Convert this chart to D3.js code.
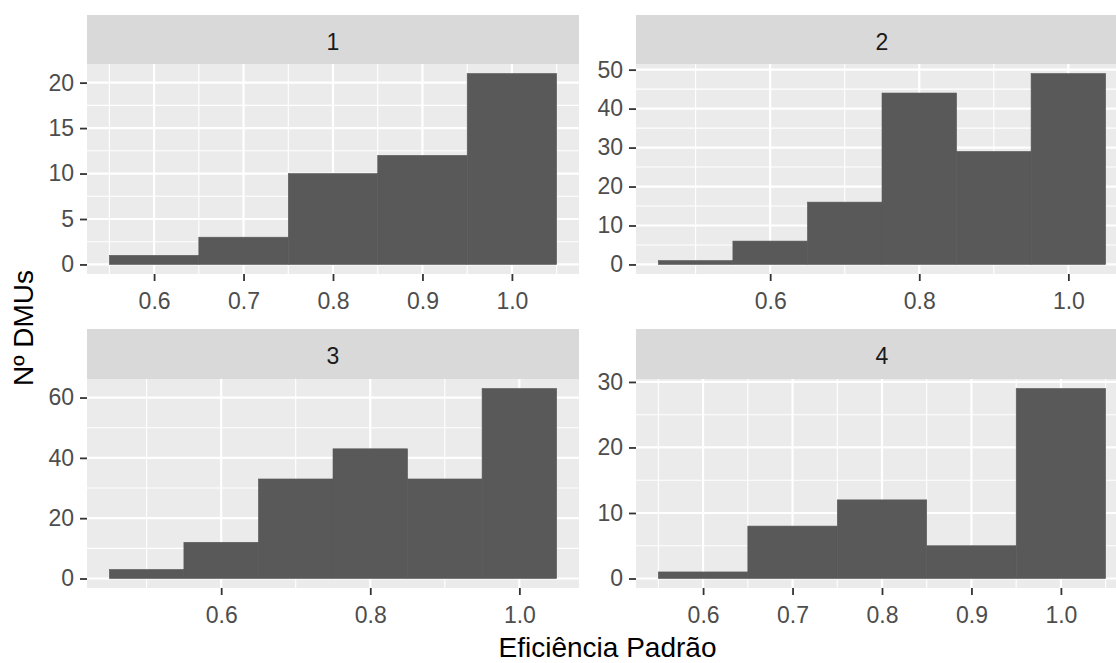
<!DOCTYPE html>
<html>
<head>
<meta charset="utf-8">
<script src="https://cdn.jsdelivr.net/npm/d3@7"></script>
<style>
  html, body { margin: 0; padding: 0; background: #fff; }
  svg { display: block; font-family: "Liberation Sans", Arial, sans-serif; }
</style>
</head>
<body>
<div id="chart"></div>
<script>
// Facet labels
const facetLabels = ['1', '2', '3', '4'];

// Histogram bins (lower edge) and counts per facet, bin width 0.1
const binWidth = 0.1;
const bins1 = [0.55, 0.65, 0.75, 0.85, 0.95];
const counts1 = [1, 3, 10, 12, 21];
const bins2 = [0.45, 0.55, 0.65, 0.75, 0.85, 0.95];
const counts2 = [1, 6, 16, 44, 29, 49];
const bins3 = [0.45, 0.55, 0.65, 0.75, 0.85, 0.95];
const counts3 = [3, 12, 33, 43, 33, 63];
const bins4 = [0.55, 0.65, 0.75, 0.85, 0.95];
const counts4 = [1, 8, 12, 5, 29];

// Tick labels
const xTicks1 = [0.6, 0.7, 0.8, 0.9, 1.0];
const xTicks2 = [0.6, 0.8, 1.0];
const xTicks3 = [0.6, 0.8, 1.0];
const xTicks4 = [0.6, 0.7, 0.8, 0.9, 1.0];
const yTicks1 = [0, 5, 10, 15, 20];
const yTicks2 = [0, 10, 20, 30, 40, 50];
const yTicks3 = [0, 20, 40, 60];
const yTicks4 = [0, 10, 20, 30];

const xTitle = 'Eficiência Padrão';
const yTitle = 'Nº DMUs';

const W = 1116, H = 663;
const cols = [{ x0: 87, x1: 579 }, { x0: 636, x1: 1128 }];
const rows = [{ s0: 15, p0: 64, p1: 274 }, { s0: 329, p0: 379, p1: 588 }];

const facets = [
    { label: facetLabels[0], bins: bins1, counts: counts1, xt: xTicks1, yt: yTicks1, c: 0, r: 0 },
    { label: facetLabels[1], bins: bins2, counts: counts2, xt: xTicks2, yt: yTicks2, c: 1, r: 0 },
    { label: facetLabels[2], bins: bins3, counts: counts3, xt: xTicks3, yt: yTicks3, c: 0, r: 1 },
    { label: facetLabels[3], bins: bins4, counts: counts4, xt: xTicks4, yt: yTicks4, c: 1, r: 1 }
];

const svg = d3.select('#chart').append('svg')
    .attr('width', W).attr('height', H)
    .attr('viewBox', [0, 0, W, H]);

// minor breaks: midpoints between majors, plus one step outside
function minorBreaks(ticks, domain) {
    const step = ticks[1] - ticks[0];
    const out = [];
    for (let v = ticks[0] - step / 2; v <= ticks[ticks.length - 1] + step; v += step) {
        if (v >= domain[0] && v <= domain[1]) out.push(v);
    }
    return out;
}

facets.forEach(f => {
    const col = cols[f.c], row = rows[f.r];
    const lo = d3.min(f.bins), hi = d3.max(f.bins) + binWidth;
    const xPad = (hi - lo) * 0.05;
    const yMax = d3.max(f.counts);

    const x = d3.scaleLinear().domain([lo - xPad, hi + xPad]).range([col.x0, col.x1]);
    const y = d3.scaleLinear().domain([-yMax * 0.05, yMax * 1.05]).range([row.p1, row.p0]);

    const g = svg.append('g');

    // strip
    g.append('rect')
        .attr('x', col.x0).attr('y', row.s0)
        .attr('width', col.x1 - col.x0).attr('height', row.p0 - row.s0)
        .attr('fill', '#D9D9D9');
    g.append('text')
        .attr('x', (col.x0 + col.x1) / 2).attr('y', (row.s0 + row.p0) / 2 + 2)
        .attr('dy', '0.36em')
        .attr('text-anchor', 'middle')
        .attr('font-size', 23)
        .attr('fill', '#1A1A1A')
        .text(f.label);

    // panel background
    g.append('rect')
        .attr('x', col.x0).attr('y', row.p0)
        .attr('width', col.x1 - col.x0).attr('height', row.p1 - row.p0)
        .attr('fill', '#EBEBEB');

    // grid
    const grid = g.append('g').attr('stroke', '#fff');
    grid.selectAll('.ymin').data(minorBreaks(f.yt, y.domain())).join('line')
        .attr('x1', col.x0).attr('x2', col.x1)
        .attr('y1', d => y(d)).attr('y2', d => y(d))
        .attr('stroke-width', 1.1);
    grid.selectAll('.xmin').data(minorBreaks(f.xt, x.domain())).join('line')
        .attr('y1', row.p0).attr('y2', row.p1)
        .attr('x1', d => x(d)).attr('x2', d => x(d))
        .attr('stroke-width', 1.1);
    grid.selectAll('.ymaj').data(f.yt).join('line')
        .attr('x1', col.x0).attr('x2', col.x1)
        .attr('y1', d => y(d)).attr('y2', d => y(d))
        .attr('stroke-width', 2.2);
    grid.selectAll('.xmaj').data(f.xt).join('line')
        .attr('y1', row.p0).attr('y2', row.p1)
        .attr('x1', d => x(d)).attr('x2', d => x(d))
        .attr('stroke-width', 2.2);

    // bars
    g.append('g').selectAll('rect')
        .data(f.bins.map((b, i) => ({ b, n: f.counts[i] })))
        .join('rect')
        .attr('x', d => x(d.b))
        .attr('width', d => x(d.b + binWidth) - x(d.b))
        .attr('y', d => y(d.n))
        .attr('height', d => y(0) - y(d.n))
        .attr('fill', '#595959')
        .attr('stroke', '#595959')
        .attr('stroke-width', 0.6);

    // axes
    const ax = g.append('g')
        .attr('transform', `translate(0,${row.p1})`)
        .call(d3.axisBottom(x).tickValues(f.xt).tickSize(7).tickPadding(12).tickFormat(d3.format('.1f')));
    const ay = g.append('g')
        .attr('transform', `translate(${col.x0},0)`)
        .call(d3.axisLeft(y).tickValues(f.yt).tickSize(7).tickPadding(6));
    [ax, ay].forEach(a => {
        a.select('.domain').remove();
        a.selectAll('line').attr('stroke', '#333333').attr('stroke-width', 1.8);
        a.selectAll('text')
            .attr('fill', '#4D4D4D')
            .attr('font-size', 23)
            .attr('font-family', '"Liberation Sans", Arial, sans-serif');
    });
});

// axis titles
svg.append('text')
    .attr('x', (cols[0].x0 + cols[1].x1) / 2)
    .attr('y', 657)
    .attr('text-anchor', 'middle')
    .attr('font-size', 28)
    .attr('fill', '#000')
    .text(xTitle);

svg.append('text')
    .attr('transform', `translate(33,${(rows[0].p0 + rows[1].p1) / 2 + 2}) rotate(-90)`)
    .attr('text-anchor', 'middle')
    .attr('font-size', 28)
    .attr('fill', '#000')
    .text(yTitle);
</script>
</body>
</html>
